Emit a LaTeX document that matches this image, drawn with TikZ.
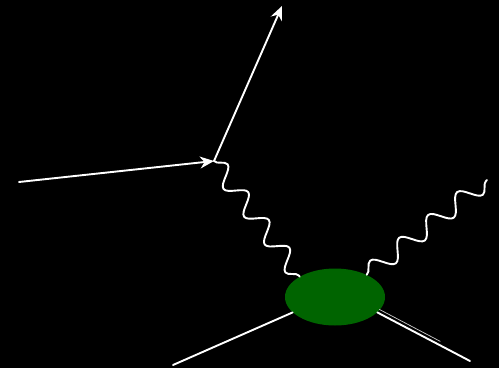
\documentclass[tikz,border=0pt]{standalone}
\usetikzlibrary{arrows.meta,positioning,shapes.geometric,decorations.pathmorphing,calc}

\definecolor{blobgreen}{RGB}{0,100,0}

\tikzset{
  fermion/.style={draw=white, line width=1.9pt, line cap=round},
  boson/.style={draw=white, line width=1.9pt, line cap=round,
    decorate, decoration={snake, segment length=#1, amplitude=9pt}},
  tip/.style={-{Stealth[length=14pt,width=12pt]}}
}

\begin{document}
\begin{tikzpicture}[x=1pt, y=-1pt, line join=round]

  % ------------------ Background ------------------
  \fill[black] (0,0) rectangle (499,368);
  \useasboundingbox (0,0) rectangle (499,368);

  % ------------------ Lepton vertex ------------------
  \coordinate (vtx)  at (214,161);
  \coordinate (lin)  at (19,182);
  \coordinate (lout) at (282,6);

  % ------------------ Blob ------------------
  \node[ellipse, fill=blobgreen, minimum width=100pt,
    minimum height=57pt, inner sep=0pt] (blob) at (335,297) {};

  % ------------------ Free ends ------------------
  \coordinate (gend) at (487,180);
  \coordinate (qin)  at (173,365);
  \coordinate (qout) at (470,361);

  % ------------------ Lepton lines ------------------
  \draw[fermion, tip] (lin) -- (vtx);
  \draw[fermion, tip] (vtx) -- (lout);

  % ------------------ Photons ------------------
  \draw[boson=34.6pt] (vtx) -- (blob.150);
  \draw[boson=36.9pt] (blob.35) -- (gend);

  % ------------------ Quark lines ------------------
  \draw[fermion] (qin) -- (blob.200);
  \draw[fermion] (blob.-20) -- (qout);
  \draw[white!80!black, line width=0.7pt]
    ($(blob.-20)+(2,-3)$) -- ++(61,32);

\end{tikzpicture}
\end{document}
